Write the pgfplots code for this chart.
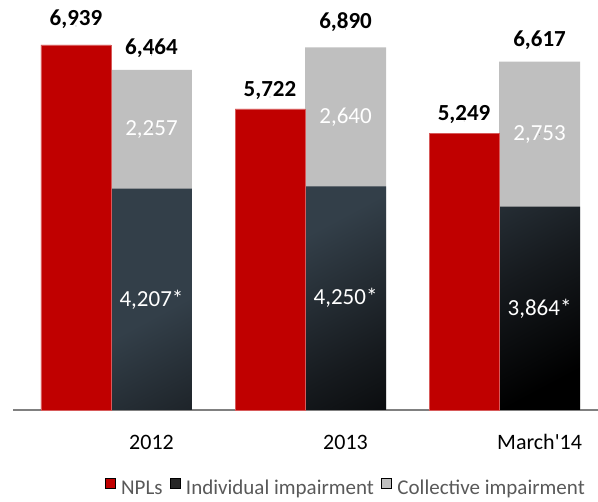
\documentclass[border=0pt]{standalone}
\usepackage{pgfplots}
\pgfplotsset{compat=1.18}
\usepackage{fontspec}
\setmainfont{Carlito}[Ligatures=TeXOff]
\definecolor{npl}{RGB}{192,0,0}
\definecolor{npledge}{RGB}{215,90,90}
\definecolor{coll}{RGB}{191,191,191}
\definecolor{slate}{RGB}{51,63,73}
\definecolor{slatedark}{RGB}{22,26,30}
\definecolor{axisgray}{RGB}{128,128,128}
\definecolor{legtext}{RGB}{89,89,89}
\pgfdeclareverticalshading{indiv}{100bp}{color(0bp)=(black); color(22bp)=(black); color(40bp)=(slatedark); color(62bp)=(slate); color(100bp)=(slate)}
\begin{document}
\begin{tikzpicture}
\useasboundingbox (-13pt,-92pt) rectangle (585pt,410pt);
\begin{axis}[
  at={(0pt,0pt)}, anchor=south west,
  scale only axis, width=585pt, height=410pt,
  xmin=-0.505, xmax=2.510, ymin=0, ymax=7790,
  hide y axis,
  axis x line*=bottom,
  x axis line style={draw=axisgray, line width=1.5pt, -},
  xtick={0.2088,1.2088,2.2088},
  xticklabels={2012,2013,March'14},
  major tick length=0pt,
  xticklabel style={font=\fontsize{22}{26}\selectfont, text=black, anchor=base, yshift=-40pt},
  clip=false,
  legend columns=3,
  legend image code/.code={\fill[#1] (0pt,0pt) rectangle (10pt,10pt);},
  legend style={draw=none, fill=none, at={(0.9778,-0.188)}, anchor=east, inner sep=0pt,
    font=\fontsize{21}{24}\selectfont, text=legtext,
    nodes={inner sep=0pt},
    /tikz/every odd column/.append style={column sep=6pt},
    /tikz/every even column/.append style={column sep=7pt}},
]
\addlegendimage{fill=npl}
\addlegendentry{NPLs}
\addlegendimage{fill={rgb,255:red,38;green,38;blue,38}}
\addlegendentry{Individual impairment}
\addlegendimage{fill=coll}
\addlegendentry{Collective impairment}

% Collective (total of stack)
\addplot[ybar, bar width=81pt, bar shift=40.5pt, fill=coll, draw=none, forget plot]
  coordinates {(0,6464) (1,6890) (2,6617)};
% Individual
\addplot[ybar, bar width=81pt, bar shift=40.5pt, draw=none,
  shade, shading=indiv, shading angle=28, forget plot]
  coordinates {(0,4207) (1,4250) (2,3864)};
% NPLs
\addplot[ybar, bar width=70pt, bar shift=-35pt, fill=npl, draw=npledge, line width=0.5pt, forget plot]
  coordinates {(0,6939) (1,5722) (2,5249)};

% bold labels above bars
\addplot[only marks, mark=*, mark size=0.01pt, mark options={draw=none, fill=none}, forget plot,
  nodes near coords, point meta=explicit symbolic,
  nodes near coords style={anchor=base, inner sep=0pt, text=black, font=\bfseries\fontsize{23}{26}\selectfont}]
  coordinates {(-0.1804,7296) [6,939] (0.2088,6745) [6,464]
               (0.8196,5947) [5,722] (1.2088,7239) [6,890]
               (1.8196,5491) [5,249] (2.2088,6897) [6,617]};
% white labels inside stacks
\addplot[only marks, mark=*, mark size=0.01pt, mark options={draw=none, fill=none}, forget plot,
  nodes near coords, point meta=explicit symbolic,
  nodes near coords style={anchor=center, inner sep=0pt, text=white, font=\fontsize{23}{26}\selectfont}]
  coordinates {(0.2088,5335) [2,257] (1.2088,5570) [2,640] (2.2088,5240) [2,753]
               (0.2088,2103) [4,207*] (1.2088,2125) [4,250*] (2.2088,1932) [3,864*]};
\end{axis}
\end{tikzpicture}
\end{document}
